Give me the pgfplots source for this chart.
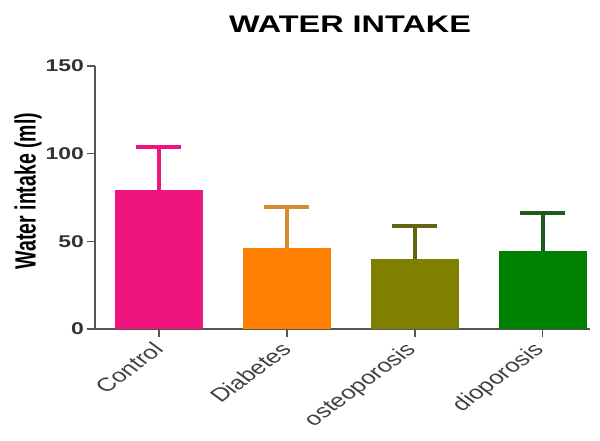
\documentclass[border=0pt]{standalone}
\usepackage{pgfplots}
\pgfplotsset{compat=1.18}
\usepackage{fontspec}
\setmainfont{Liberation Sans}
\usepackage{graphicx}
\definecolor{cpink}{RGB}{240,20,127}
\definecolor{corange}{RGB}{255,128,0}
\definecolor{colive}{RGB}{128,128,0}
\definecolor{cgreen}{RGB}{0,128,0}
\definecolor{eorange}{RGB}{215,140,50}
\definecolor{eolive}{RGB}{100,100,20}
\definecolor{egreen}{RGB}{30,90,30}
\definecolor{axgray}{RGB}{85,85,85}
\newcommand{\sx}[1]{\scalebox{1.35}[1]{#1}}
\begin{document}
\begin{tikzpicture}[x=1pt,y=1pt]
\path[use as bounding box] (0,0) rectangle (600,440);
\begin{axis}[
  at={(95pt,111pt)}, anchor=south west,
  scale only axis, width=495pt, height=263pt,
  xmin=-0.5, xmax=3.37, ymin=0, ymax=150,
  axis lines=left, axis line style={-, axgray, line width=1.6pt},
  tick style={axgray, line width=1.6pt},
  tick align=outside, major tick length=8pt,
  xtick={0,1,2,3},
  xticklabels={\sx{\rotatebox{45}{Control}},\sx{\rotatebox{45}{Diabetes}},\sx{\rotatebox{45}{osteoporosis}},\sx{\rotatebox{45}{dioporosis}}},
  xticklabel style={anchor=north east, font=\fontsize{19}{19}\selectfont, text=black!75, inner sep=0pt, xshift=6pt, yshift=-4pt},
  ytick={0,50,100,150},
  yticklabels={\sx{0},\sx{50},\sx{100},\sx{150}},
  yticklabel style={font=\fontsize{17}{17}\selectfont\bfseries, text=black!80, inner sep=1pt, xshift=-2pt},
  ybar, bar width=88pt,
  error bars/y dir=plus, error bars/y explicit,
]
\addplot[bar shift=0pt, fill=cpink, draw=none,
  error bars/error bar style={cpink, line width=3.8pt},
  error bars/error mark options={cpink, line width=3.8pt, mark size=22.5pt, rotate=90}]
  coordinates {(0,79.3) +- (0,24.7)};
\addplot[bar shift=0pt, fill=corange, draw=none,
  error bars/error bar style={eorange, line width=3.8pt},
  error bars/error mark options={eorange, line width=3.8pt, mark size=22.5pt, rotate=90}]
  coordinates {(1,46) +- (0,23.4)};
\addplot[bar shift=0pt, fill=colive, draw=none,
  error bars/error bar style={eolive, line width=3.8pt},
  error bars/error mark options={eolive, line width=3.8pt, mark size=22.5pt, rotate=90}]
  coordinates {(2,39.8) +- (0,19)};
\addplot[bar shift=0pt, fill=cgreen, draw=none,
  error bars/error bar style={egreen, line width=3.8pt},
  error bars/error mark options={egreen, line width=3.8pt, mark size=22.5pt, rotate=90}]
  coordinates {(3,44.7) +- (0,21.3)};
\end{axis}
\node at (350,416) {\sx{\fontsize{24}{24}\selectfont\bfseries WATER INTAKE}};
\node at (28,249) {\scalebox{1.5}[1]{\rotatebox{90}{\fontsize{19.5}{19.5}\selectfont\bfseries Water intake (ml)}}};
\end{tikzpicture}
\end{document}
